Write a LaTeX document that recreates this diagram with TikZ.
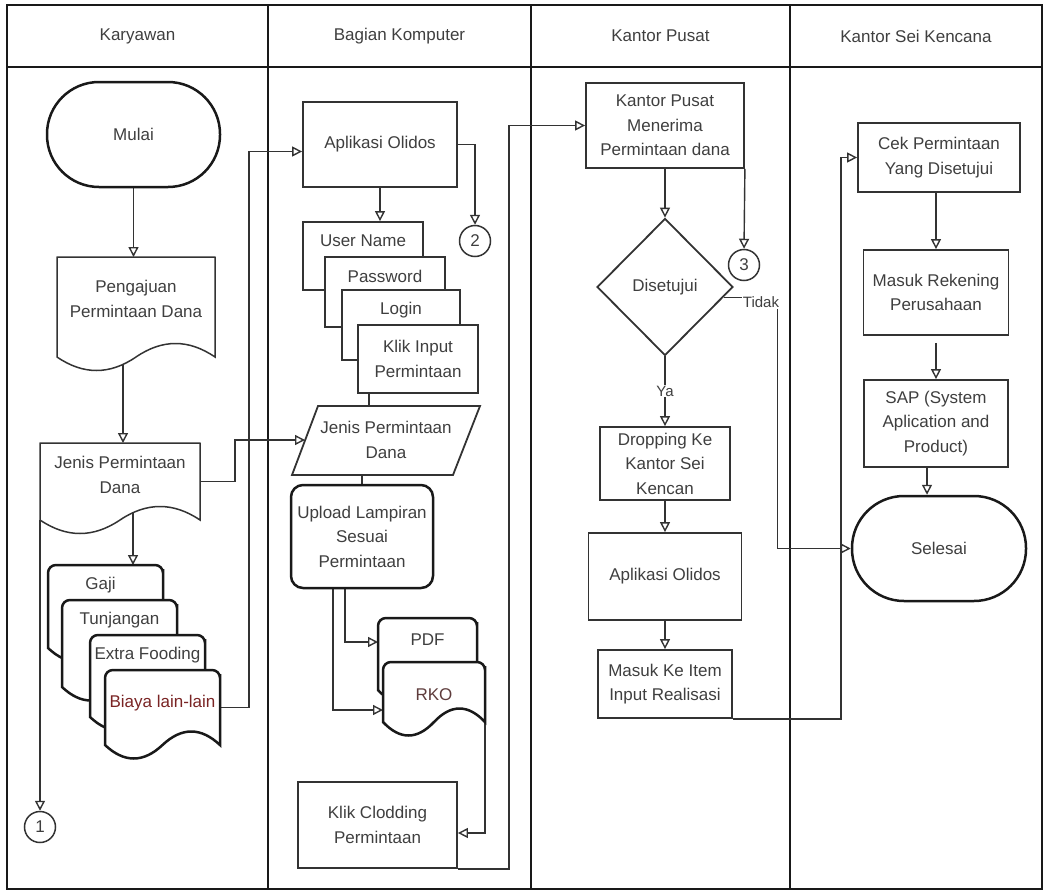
\documentclass[tikz,border=0pt]{standalone}
\usepackage{fontspec}
\setmainfont{Liberation Sans}
\usetikzlibrary{arrows.meta,positioning,shapes.geometric}
\definecolor{txt}{HTML}{3F3F3F}
\definecolor{lncol}{HTML}{333333}
\definecolor{bred}{HTML}{7A2424}
\definecolor{rkocol}{HTML}{5E3C3C}
\pgfdeclarelayer{bg}
\pgfsetlayers{bg,main}

% document shape with a wavy bottom: style, name, left, top, right, bottom, top radius
\newcommand{\wavedoc}[7][]{%
  \pgfmathsetmacro{\wdw}{#5-#3}%
  \pgfmathsetmacro{\wdm}{(#3+#5)/2}%
  \pgfmathsetmacro{\wdr}{#5-\wdw/6}%
  \pgfmathsetmacro{\wdmr}{\wdm+\wdw/6}%
  \pgfmathsetmacro{\wdml}{\wdm-\wdw/6}%
  \pgfmathsetmacro{\wdl}{#3+\wdw/6}%
  \pgfmathsetmacro{\wdup}{#6-18}%
  \pgfmathsetmacro{\wddn}{#6+18}%
  \pgfmathsetmacro{\wdc}{(#4+#6)/2}%
  \draw[#1] (#3,#6) [rounded corners=#7] -- (#3,#4) -- (#5,#4) -- (#5,#4+12) [sharp corners] -- (#5,#6)
    .. controls (\wdr,\wdup) and (\wdmr,\wdup) .. (\wdm,#6)
    .. controls (\wdml,\wddn) and (\wdl,\wddn) .. (#3,#6) -- cycle;
  \coordinate (#2-n) at (\wdm,#4);
  \coordinate (#2-nw) at (#3,#4);
  \coordinate (#2-sw) at (#3,#6);
  \coordinate (#2-se) at (#5,#6);
  \coordinate (#2-w) at (#3,\wdc);
  \coordinate (#2-e) at (#5,\wdc);
}

\tikzset{
  box/.style={draw=lncol, line width=1.8pt, fill=white},
  bbox/.style={draw=black!90, line width=2.5pt, fill=white},
  docbox/.style={draw=lncol, line width=1.5pt, fill=white},
  arr/.style={lncol, line width=1.4pt, -{Triangle[open,length=10pt,width=10pt]}},
  conn/.style={lncol, line width=1.4pt},
  lane/.style={black!90, line width=2.6pt},
  circ/.style={circle, draw=lncol, line width=1.5pt, fill=white, minimum size=31pt, inner sep=0pt},
  lbl/.style={font=\fontsize{15}{18}\selectfont, fill=white, inner sep=1pt}
}

\begin{document}
\begin{tikzpicture}[x=1pt,y=-1pt,
  every node/.style={font=\fontsize{17}{24.5}\selectfont, text=txt, align=center, inner sep=1pt}]
\useasboundingbox (0,0) rectangle (1046,891);

% lane headers
\node (h1) at (137.5,36) {Karyawan};
\node (h2) at (399.5,36) {Bagian Komputer};
\node (h3) at (660.5,36) {Kantor Pusat};
\node (h4) at (916,36) {Kantor Sei Kencana};

% Karyawan
\node[bbox, rounded corners=52pt, minimum width=173pt, minimum height=105pt] (mulai) at (133.5,134.5) {Mulai};
\wavedoc[docbox]{peng}{57}{257}{215}{357}{0.1pt}
\node (peng-t) at ([yshift=-42pt]peng-n) {Pengajuan\\Permintaan Dana};
\coordinate (peng-out) at (123,345);
\wavedoc[docbox]{jenisk}{40}{443}{200}{520}{0.1pt}
\node (jenisk-t) at ([yshift=-32pt]jenisk-n) {Jenis Permintaan\\Dana};
\coordinate (jenisk-out) at (133,505);

\wavedoc[bbox]{gaji}{48}{565}{163}{648}{8pt}
\node (gaji-t) at ([xshift=-5pt,yshift=-20pt]gaji-n) {Gaji};
\wavedoc[bbox]{tunj}{62}{600}{177}{687}{8pt}
\node (tunj-t) at ([yshift=-20pt]tunj-n) {Tunjangan};
\wavedoc[bbox]{extra}{90}{635}{205}{717}{8pt}
\node (extra-t) at ([yshift=-20pt]extra-n) {Extra Fooding};
\wavedoc[bbox]{biaya}{105}{670}{220}{745}{8pt}
\node[text=bred] (biaya-t) at ([yshift=-33pt]biaya-n) {Biaya lain-lain};

\node[circ] (c1) at (40,827) {1};

% Bagian Komputer
\node[box, minimum width=154pt, minimum height=85pt] (olidos) at (380,144.5) {Aplikasi Olidos};
\node[circ] (c2) at (475,241) {2};

\node[box, minimum width=120pt, minimum height=68pt] (user) at (363,256) {};
\node (user-t) at ([yshift=-20pt]user.north) {User Name};
\node[box, minimum width=120pt, minimum height=70pt] (pass) at (385,292) {};
\node (pass-t) at ([yshift=-20pt]pass.north) {Password};
\node[box, minimum width=118pt, minimum height=70pt] (login) at (401,325) {};
\node (login-t) at ([yshift=-21pt]login.north) {Login};
\node[box, minimum width=120pt, minimum height=68pt] (klik) at (418,359) {Klik Input\\Permintaan};

\draw[box] (318,406) -- (480,406) -- (453,475) -- (292,475) -- cycle;
\coordinate (jenisb-n) at (369,406);
\coordinate (jenisb-s) at (362,475);
\coordinate (jenisb-w) at (305,440);
\node (jenisb) at (386,440) {Jenis Permintaan\\Dana};

\node[bbox, rounded corners=12pt, minimum width=142pt, minimum height=103pt] (upload) at (362,536.5) {Upload Lampiran\\Sesuai\\Permintaan};

\wavedoc[bbox]{pdf}{378}{618}{477}{690}{8pt}
\node (pdf-t) at ([yshift=-22pt]pdf-n) {PDF};
\wavedoc[bbox]{rko}{383}{662}{485}{722}{8pt}
\node[text=rkocol] (rko-t) at ([yshift=-33pt]rko-n) {RKO};

\node[box, minimum width=159pt, minimum height=86pt] (clodding) at (377.5,825) {Klik Clodding\\Permintaan};

% Kantor Pusat
\node[box, minimum width=158pt, minimum height=85pt] (kp) at (665,125.5) {Kantor Pusat\\Menerima\\Permintaan dana};
\node[box, diamond, minimum width=136pt, minimum height=137pt, inner sep=0pt] (dia) at (665,287) {Disetujui};
\node[circ] (c3) at (744,265) {3};
\node[box, minimum width=130pt, minimum height=73pt] (drop) at (665,463.5) {Dropping Ke\\Kantor Sei\\Kencan};
\node[box, minimum width=153pt, minimum height=87pt] (olidos2) at (665,576.5) {Aplikasi Olidos};
\node[box, minimum width=134pt, minimum height=68pt] (masukitem) at (665,684) {Masuk Ke Item\\Input Realisasi};

% Kantor Sei Kencana
\node[box, minimum width=162pt, minimum height=69pt] (cek) at (939,157.5) {Cek Permintaan\\Yang Disetujui};
\node[box, minimum width=145pt, minimum height=85pt] (rek) at (936,292.5) {Masuk Rekening\\Perusahaan};
\node[box, minimum width=144pt, minimum height=87pt] (sap) at (936,423.5) {SAP (System\\Aplication and\\Product)};
\node[bbox, rounded corners=52pt, minimum width=174pt, minimum height=105pt] (selesai) at (939,548.5) {Selesai};

\begin{pgfonlayer}{bg}
\draw[lane] (7,5) rectangle (1042,889);
\draw[lane] (7,67) -- (1042,67);
\foreach \x in {268,531,790}
  \draw[lane] (\x,5) -- (\x,889);

\draw[arr] (mulai.south) -- (mulai.south |- peng-n);
\draw[arr] (peng-out) -- (peng-out |- jenisk-n);
\draw[arr] (jenisk-out) -- (jenisk-out |- gaji-n);
\draw[arr] (jenisk-sw) -- (c1.north);
\draw[arr] (jenisk-e) -- ++(35,0) |- (jenisb-w);
\draw[arr] (biaya-e) -- ++(29,0) |- ([yshift=-7pt]olidos.west);

\draw[arr] (olidos.east) -| (c2.north);
\draw[arr] (olidos.south) -- (olidos.south |- user.north);
\draw[conn] (klik.south -| jenisb-n) -- (jenisb-n);
\draw[conn] (jenisb-s) -- (upload.north);
\draw[arr] ([xshift=-17pt]upload.south) |- ([yshift=12pt]pdf-w);
\draw[arr] ([xshift=-29pt]upload.south) |- ([yshift=-18pt]rko-w);
\draw[arr] (rko-se) |- ([yshift=-8pt]clodding.east);
\draw[arr] (clodding.south east) -- ++(51,0) |- (kp.west);

\draw[arr] (kp.south) -- (dia.north);
\draw[arr] (kp.south east) -- (c3.north);
\draw[arr] (dia.-10) -- ++(54,0) |- (selesai.west);
\draw[arr] (dia.south) -- node[lbl] (ya) {Ya} (drop.north);
\draw[arr] (drop.south) -- (olidos2.north);
\draw[arr] (olidos2.south) -- (masukitem.north);
\draw[arr] (masukitem.south east) -- ++(108,0) |- (cek.west);

\draw[arr] (cek.south -| rek) -- (rek.north);
\draw[arr, shorten <=7pt] (rek.south) -- (sap.north);
\draw[arr] ([xshift=-9pt]sap.south) -- ([xshift=-9pt]sap.south |- selesai.north);
\end{pgfonlayer}

\node[lbl] (tidak) at (761,302) {Tidak};
\end{tikzpicture}
\end{document}
